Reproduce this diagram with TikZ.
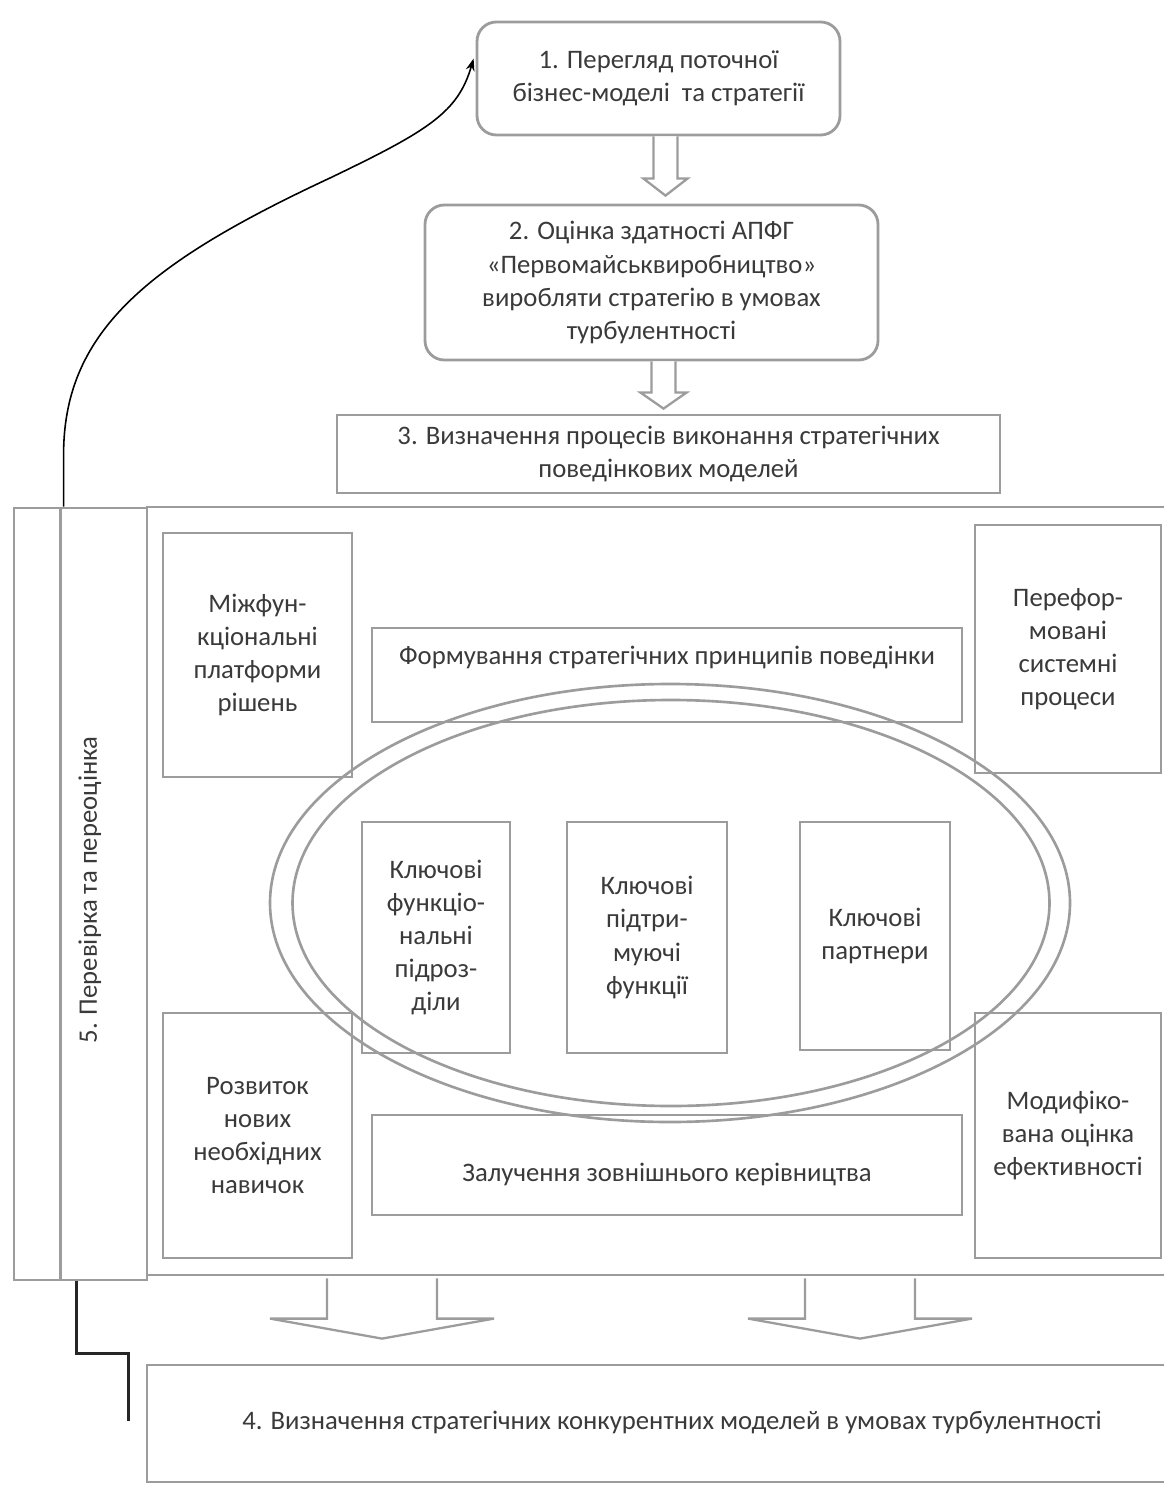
\documentclass[tikz,border=0pt]{standalone}
\usepackage{fontspec}
\setmainfont{Carlito}
\usetikzlibrary{calc,arrows.meta,shapes.geometric}
\definecolor{ln}{HTML}{9C9C9C}
\definecolor{txt}{HTML}{3A3A3A}
\newcommand\blkarrow[5]{%
  \draw[barrow] ($(#1)+(-#3,0)$) -- ($(#2)+(-#3,-#5)$) -- ($(#2)+(-#4,-#5)$) -- (#2)
    -- ($(#2)+(#4,-#5)$) -- ($(#2)+(#3,-#5)$) -- ($(#1)+(#3,0)$);}
\begin{document}
\begin{tikzpicture}[x=0.02cm,y=-0.02cm,
  every node/.style={font=\fontsize{15.2}{18.8}\selectfont, text=txt, align=center},
  box/.style 2 args={draw=ln, line width=1.6pt, fill=white, inner sep=0pt,
    minimum width=#1*0.02cm, minimum height=#2*0.02cm},
  rbox/.style 2 args={box={#1}{#2}, rounded corners=11pt},
  barrow/.style={draw=ln, line width=1.3pt, fill=white},
  ring/.style 2 args={draw=ln, line width=1.5pt, ellipse, inner sep=0pt,
    minimum width=#1*0.02cm, minimum height=#2*0.02cm},
  curve/.style={draw=black, line width=0.9pt, -{Stealth[length=7pt,width=5pt]}},
  elbow/.style={draw=black!85, line width=1.3pt}]
\useasboundingbox (0,0) rectangle (1163,1486);

% top flow
\node[rbox={363}{113}] (b1) at (658.5,78.5) {1. Перегляд поточної\\бізнес-моделі~ та стратегії};
\node[rbox={453}{155}] (b2) at (651.5,282.5) {2. Оцінка здатності АПФГ\\«Первомайськвиробництво»\\виробляти стратегію в умовах\\турбулентності};
\node[box={663}{78}] (b3) at (668.5,454) {3. Визначення процесів виконання стратегічних\\поведінкових моделей};

\coordinate (a1s) at ($(b1.south)+(7,0)$);
\coordinate (a1e) at ($(b2.north)+(14,-8)$);
\blkarrow{a1s}{a1e}{12}{22}{17}
\coordinate (a2s) at ($(b2.south)+(12,0)$);
\coordinate (a2e) at ($(b3.north)+(-5,-5)$);
\blkarrow{a2s}{a2e}{12}{23}{16}

% left column
\node[box={133}{772}] (lcol) at (80.5,894) {};
\draw[draw=ln, line width=1.6pt] ($(lcol.north west)+(48,0)$) -- ($(lcol.south west)+(48,0)$);
\node[rotate=90] (t5) at (90,890) {5. Перевірка та переоцінка};

% main frame
\node[box={1020}{768}] (frame) at (657,891) {};

% corner boxes
\node[box={189}{244}] (lt) at (257.5,655) {Міжфун-\\кціональні\\платформи\\рішень};
\node[box={186}{248}] (rt) at (1068,649) {Перефор-\\мовані\\системні\\процеси};
\node[box={189}{245}] (lb) at (257.5,1135.5) {Розвиток\\нових\\необхідних\\навичок};
\node[box={186}{245}] (rb) at (1068,1135.5) {Модифіко-\\вана оцінка\\ефективності};

% bars
\node[box={590}{94}] (tbar) at (667,675) {};
\node (tbart) at (667,657) {Формування стратегічних принципів поведінки};
\node[box={590}{100}] (bbar) at (667,1165) {};
\node (bbart) at (667,1174) {Залучення зовнішнього керівництва};

% central boxes
\node[box={148}{231}] (ca) at (436,937.5) {Ключові\\функціо-\\нальні\\підроз-\\діли};
\node[box={160}{231}] (cb) at (647,937.5) {Ключові\\підтри-\\муючі\\функції};
\node[box={150}{228}] (cc) at (875,936) {Ключові\\партнери};

% double ellipse
\node[ring={800}{438}] (ell1) at (670,903) {};
\node[ring={757}{406}] (ell2) at (671,903) {};

% box 4
\node[box={1020}{117}] (b4) at (657,1423.5) {};
\node (b4t) at (672,1422) {4. Визначення стратегічних конкурентних моделей в умовах турбулентності};

\coordinate (a3s) at ($(frame.south)+(-275,2)$);
\coordinate (a3e) at ($(b4.north)+(-275,-25)$);
\blkarrow{a3s}{a3e}{55}{112}{20}
\coordinate (a4s) at ($(frame.south)+(203,2)$);
\coordinate (a4e) at ($(b4.north)+(203,-25)$);
\blkarrow{a4s}{a4e}{55}{112}{20}

% feedback curve
\coordinate (cstart) at ($(lcol.north west)+(51,0)$);
\coordinate (cend) at ($(b1.north west)+(-2,38)$);
\draw[curve] (cstart) -- ++(0,-55) .. controls (65,330) and (150,262) .. (330,178)
  .. controls (430,130) and (458,112) .. (cend);

% elbow line at bottom left
\coordinate (sstart) at ($(lcol.south west)+(64,0)$);
\coordinate (send) at ($(b4.west)+(-17,-3)$);
\draw[elbow] (sstart) -- ++(0,72) -| (send);
\end{tikzpicture}
\end{document}
